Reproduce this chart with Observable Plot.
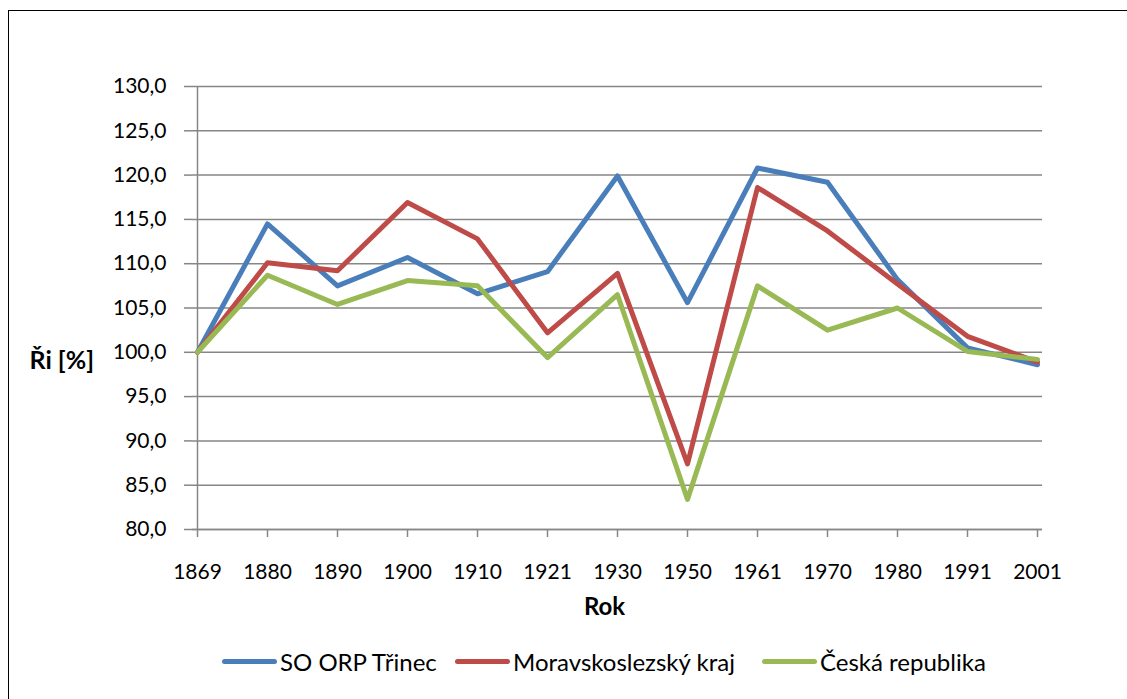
<!DOCTYPE html>
<html>
<head>
<meta charset="utf-8">
<script src="https://cdn.jsdelivr.net/npm/d3@7"></script>
<script src="https://cdn.jsdelivr.net/npm/@observablehq/plot@0.6"></script>
<style>
  html, body { margin: 0; padding: 0; background: #fff; }
  #wrap { position: relative; width: 1127px; height: 699px; overflow: hidden; font-family: Lato, "Open Sans", sans-serif; }
  #frame { position: absolute; left: 8px; top: 10px; width: 1200px; height: 800px; border-left: 1.5px solid #000; border-top: 1.5px solid #000; }
  #chart { position: absolute; left: 0; top: 0; }
  #legend { position: absolute; top: 645px; left: 0; width: 1127px; height: 32px; font-size: 24px; color: #000; }
  .item { position: absolute; top: 0; display: flex; align-items: center; height: 32px; white-space: nowrap; }
  .sw { width: 55px; height: 5px; border-radius: 3px; margin-right: 3px; }
</style>
</head>
<body>
<div id="wrap">
  <div id="frame"></div>
  <div id="chart"></div>
  <div id="legend"></div>
</div>
<script>
const years = ["1869","1880","1890","1900","1910","1921","1930","1950","1961","1970","1980","1991","2001"];
const trinec = [100.0, 114.5, 107.5, 110.7, 106.6, 109.1, 119.9, 105.6, 120.8, 119.2, 108.2, 100.5, 98.6];
const msk    = [100.0, 110.1, 109.2, 116.9, 112.8, 102.2, 108.9, 87.4, 118.6, 113.7, 107.7, 101.8, 98.9];
const cr     = [100.0, 108.7, 105.4, 108.1, 107.5, 99.4, 106.5, 83.4, 107.5, 102.5, 105.0, 100.1, 99.2];
const seriesNames = ["SO ORP Třinec", "Moravskoslezský kraj", "Česká republika"];
const seriesColors = ["#4a7ebb", "#be4b48", "#98b954"];
const yTicks = [80, 85, 90, 95, 100, 105, 110, 115, 120, 125, 130];

const seriesValues = [trinec, msk, cr];
const data = [];
seriesValues.forEach((vals, s) => vals.forEach((v, i) => data.push({year: years[i], value: v, series: seriesNames[s]})));

const fmt = d => d.toFixed(1).replace(".", ",");
const gray = "#868686";

const chart = Plot.plot({
  width: 1127,
  height: 699,
  marginLeft: 192,
  marginRight: 85,
  marginTop: 86,
  marginBottom: 170,
  style: {fontFamily: "Lato, 'Open Sans', sans-serif", fontSize: "21px", color: "#000", background: "transparent", maxWidth: "none"},
  x: {type: "point", domain: years, padding: 0},
  y: {domain: [80, 130]},
  color: {domain: seriesNames, range: seriesColors},
  marks: [
    Plot.gridY(yTicks, {stroke: gray, strokeOpacity: 1, strokeWidth: 1.5}),
    Plot.axisY({ticks: yTicks, tickSize: 8, tickPadding: 18, tickFormat: fmt, stroke: gray, strokeWidth: 1.5, label: null, fontSize: 21}),
    Plot.axisX({tickSize: 8, tickPadding: 27, stroke: gray, strokeWidth: 1.5, label: null, fontSize: 21}),
    Plot.ruleX([years[0]], {stroke: gray, strokeWidth: 1.5}),
    Plot.ruleY([80], {stroke: gray, strokeWidth: 1.5}),
    Plot.line(data, {x: "year", y: "value", z: "series", stroke: "series", strokeWidth: 5, strokeLinejoin: "round", strokeLinecap: "round"}),
    Plot.text(["Ři [%]"], {frameAnchor: "left", y: [99.0], dx: -163, textAnchor: "start", fontWeight: "bold", fontSize: 25, text: d => d}),
    Plot.text(["Rok"], {frameAnchor: "bottom", dx: -13, dy: 85, fontWeight: "bold", fontSize: 24, text: d => d})
  ]
});
document.getElementById("chart").appendChild(chart);

const legendPos = [222, 455, 762];
const legend = document.getElementById("legend");
seriesNames.forEach((n, i) => {
  const it = document.createElement("div");
  it.className = "item";
  it.style.left = legendPos[i] + "px";
  const sw = document.createElement("div");
  sw.className = "sw";
  sw.style.background = seriesColors[i];
  const t = document.createElement("span");
  t.textContent = n;
  it.appendChild(sw); it.appendChild(t);
  legend.appendChild(it);
});
</script>
</body>
</html>
